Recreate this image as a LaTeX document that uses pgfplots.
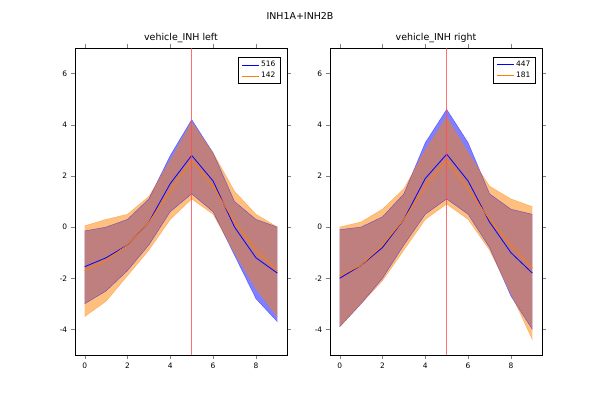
\documentclass[border=0pt]{standalone}
\usepackage{pgfplots}
\pgfplotsset{compat=1.18}
\usepgfplotslibrary{fillbetween}
\usepackage{fontspec}
\setmainfont{DejaVu Sans}
\pgfplotsset{every axis/.style={width=212bp,height=307bp,scale only axis,xmin=-0.45,xmax=9.45,ymin=-5,ymax=7,
 xtick={0,2,4,6,8},ytick={-4,-2,0,2,4,6},tick label style={font=\fontsize{7.5}{9}\selectfont},
 /pgf/number format/assume math mode=true,tick align=outside,title style={font=\fontsize{9.5}{11}\selectfont,yshift=-4bp},
 legend style={font=\fontsize{7.5}{9}\selectfont,at={(0.97,0.97)},anchor=north east,cells={anchor=west}}}}
\begin{document}
\begin{tikzpicture}
\path (0bp,0bp) rectangle (600bp,400bp);
\node[font=\fontsize{9.5}{11}\selectfont] at (300bp,384bp) {INH1A+INH2B};
\begin{axis}[at={(75bp,45bp)},anchor=south west,title={vehicle\_INH left}]
\addplot[name path=bu,draw=blue,draw opacity=0.5,forget plot] coordinates {(0,-0.15)(1,0)(2,0.3)(3,1.1)(4,2.8)(5,4.2)(6,2.9)(7,1.0)(8,0.3)(9,0.0)};
\addplot[name path=bl,draw=blue,draw opacity=0.5,forget plot] coordinates {(0,-3.0)(1,-2.5)(2,-1.7)(3,-0.7)(4,0.6)(5,1.3)(6,0.6)(7,-1.1)(8,-2.8)(9,-3.7)};
\addplot[blue,fill opacity=0.5,forget plot] fill between[of=bu and bl];
\addplot[name path=ou,draw=orange,draw opacity=0.5,forget plot] coordinates {(0,0.05)(1,0.3)(2,0.5)(3,1.2)(4,2.6)(5,4.1)(6,2.9)(7,1.4)(8,0.5)(9,0.0)};
\addplot[name path=ol,draw=orange,draw opacity=0.5,forget plot] coordinates {(0,-3.5)(1,-2.9)(2,-1.9)(3,-0.9)(4,0.3)(5,1.1)(6,0.5)(7,-1.0)(8,-2.4)(9,-3.5)};
\addplot[orange,fill opacity=0.5,forget plot] fill between[of=ou and ol];
\addplot[blue,thick] coordinates {(0,-1.55)(1,-1.2)(2,-0.7)(3,0.2)(4,1.7)(5,2.8)(6,1.8)(7,0)(8,-1.2)(9,-1.8)};
\addplot[orange,thick] coordinates {(0,-1.7)(1,-1.3)(2,-0.7)(3,0.2)(4,1.4)(5,2.6)(6,1.6)(7,0.2)(8,-0.9)(9,-1.7)};
\addplot[red!70,thick,opacity=0.8,forget plot] coordinates {(5,-5)(5,7)};
\legend{516,142}
\end{axis}
\begin{axis}[at={(330bp,45bp)},anchor=south west,title={vehicle\_INH right}]
\addplot[name path=bu,draw=blue,draw opacity=0.5,forget plot] coordinates {(0,-0.1)(1,0)(2,0.4)(3,1.3)(4,3.3)(5,4.6)(6,3.3)(7,1.3)(8,0.7)(9,0.5)};
\addplot[name path=bl,draw=blue,draw opacity=0.5,forget plot] coordinates {(0,-3.9)(1,-3.0)(2,-2.0)(3,-0.7)(4,0.5)(5,1.1)(6,0.5)(7,-0.8)(8,-2.7)(9,-4.0)};
\addplot[blue,fill opacity=0.5,forget plot] fill between[of=bu and bl];
\addplot[name path=ou,draw=orange,draw opacity=0.5,forget plot] coordinates {(0,0)(1,0.2)(2,0.7)(3,1.5)(4,3.0)(5,4.3)(6,2.9)(7,1.6)(8,1.1)(9,0.8)};
\addplot[name path=ol,draw=orange,draw opacity=0.5,forget plot] coordinates {(0,-3.9)(1,-3.0)(2,-2.1)(3,-0.9)(4,0.3)(5,0.9)(6,0.3)(7,-0.9)(8,-2.6)(9,-4.4)};
\addplot[orange,fill opacity=0.5,forget plot] fill between[of=ou and ol];
\addplot[blue,thick] coordinates {(0,-2.0)(1,-1.5)(2,-0.8)(3,0.3)(4,1.9)(5,2.85)(6,1.8)(7,0.2)(8,-1.0)(9,-1.8)};
\addplot[orange,thick] coordinates {(0,-1.9)(1,-1.5)(2,-0.7)(3,0.3)(4,1.6)(5,2.6)(6,1.5)(7,0.3)(8,-0.7)(9,-1.6)};
\addplot[red!70,thick,opacity=0.8,forget plot] coordinates {(5,-5)(5,7)};
\legend{447,181}
\end{axis}
\end{tikzpicture}
\end{document}
